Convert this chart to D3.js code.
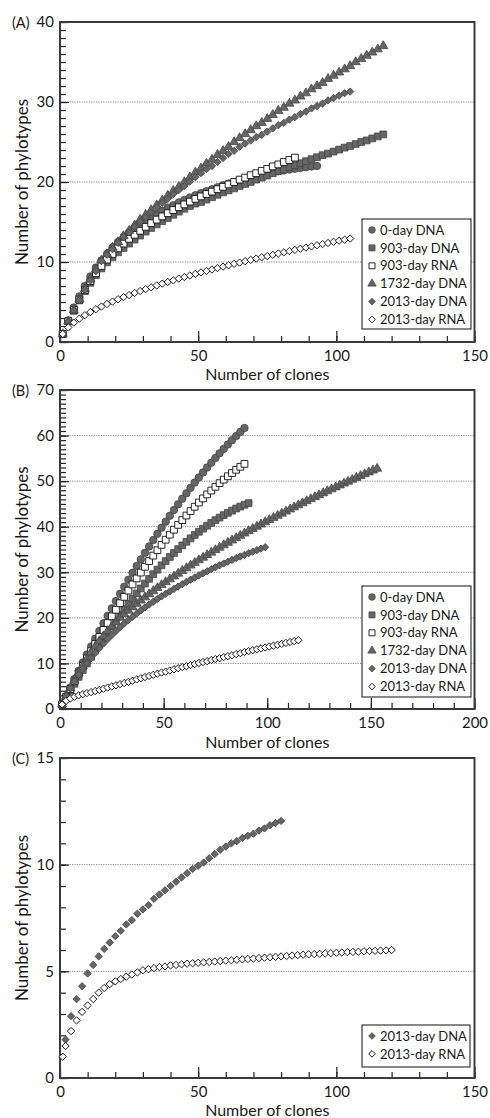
<!DOCTYPE html>
<html>
<head>
<meta charset="utf-8">
<script src="https://cdn.jsdelivr.net/npm/d3@7"></script>
<style>
  body { margin: 0; background: #fff; }
  text { font-family: Lato, "Open Sans", sans-serif; fill: #1a1a1a; }
</style>
</head>
<body>
<svg id="chart"></svg>
<script>
// ---- data ----
// Panel A: clones sampled every 2
const clonesA = [1,3,5,7,9,11,13,15,17,19,21,23,25,27,29,31,33,35,37,39,41,43,45,47,49,51,53,55,57,59,
  61,63,65,67,69,71,73,75,77,79,81,83,85,87,89,91,93,95,97,99,101,103,105,107,109,111,113,115,117];
const a0dayDNA = [1,2.7,4.3,5.7,7.0,8.2,9.3,10.2,11.0,11.8,12.5,13.1,13.7,14.2,14.7,15.2,15.6,16.0,16.4,16.8,
  17.1,17.45,17.75,18.05,18.35,18.6,18.85,19.1,19.35,19.6,19.8,20.0,20.2,20.4,20.6,20.75,20.9,21.05,21.2,21.35,
  21.45,21.55,21.65,21.75,21.85,21.95,22.0];
const a903DNA = [1,2.6,3.9,5.2,6.35,7.4,8.35,9.2,9.95,10.6,11.2,11.75,12.3,12.8,13.3,13.8,14.25,14.7,15.1,15.5,
  15.9,16.3,16.65,17.0,17.3,17.5,17.8,18.1,18.4,18.7,18.95,19.2,19.5,19.75,20.0,20.3,20.55,20.8,21.1,21.35,
  21.6,21.85,22.1,22.35,22.6,22.85,23.1,23.35,23.55,23.8,24.05,24.3,24.5,24.75,25.0,25.2,25.45,25.7,25.95];
const a903RNA = [1,2.6,4.0,5.3,6.5,7.6,8.6,9.5,10.3,11.0,11.7,12.3,12.9,13.4,13.9,14.4,14.85,15.3,15.7,16.1,
  16.5,16.85,17.2,17.55,17.9,18.2,18.5,18.8,19.1,19.4,19.7,20.0,20.3,20.55,20.85,21.1,21.4,21.65,21.95,22.2,
  22.5,22.75,23.05];
const a1732DNA = [1,2.57,3.99,5.33,6.62,7.86,9.08,10.2,11.0,11.8,12.5,13.25,13.9,14.6,15.3,15.9,16.5,17.1,17.7,18.3,
  18.9,19.4,20.0,20.6,21.2,21.7,22.3,22.8,23.4,23.9,24.4,25.0,25.5,26.0,26.5,27.0,27.4,27.9,28.4,28.9,
  29.3,29.8,30.2,30.7,31.1,31.6,32.0,32.4,32.9,33.3,33.7,34.1,34.5,35.0,35.4,35.8,36.2,36.6,37.0];
const a2013DNA = [1,2.55,3.95,5.25,6.5,7.7,8.85,10.1,10.9,11.6,12.4,13.1,13.7,14.4,15.0,15.6,16.2,16.8,17.4,17.9,
  18.5,19.0,19.5,20.05,20.6,21.1,21.6,22.0,22.5,23.0,23.5,23.9,24.4,24.8,25.2,25.6,25.9,26.3,26.7,27.1,
  27.4,27.8,28.1,28.5,28.8,29.2,29.5,29.8,30.2,30.5,30.8,31.1,31.3];
const a2013RNA = [1,1.83,2.42,2.92,3.35,3.74,4.10,4.43,4.75,5.05,5.34,5.61,5.87,6.13,6.37,6.61,6.84,7.07,7.29,7.50,
  7.71,7.92,8.12,8.31,8.51,8.70,8.88,9.06,9.24,9.42,9.59,9.77,9.93,10.10,10.27,10.43,10.59,10.74,10.90,11.06,
  11.21,11.36,11.51,11.66,11.81,11.95,12.10,12.24,12.38,12.52,12.66,12.79,12.93];

// Panel B
const clonesB = [1,3,5,7,9,11,13,15,17,19,21,23,25,27,29,31,33,35,37,39,41,43,45,47,49,51,53,55,57,59,
  61,63,65,67,69,71,73,75,77,79,81,83,85,87,89,91,93,95,97,99,101,103,105,107,109,111,113,115,117,119,
  121,123,125,127,129,131,133,135,137,139,141,143,145,147,149,151,153];
const b0dayDNA = [1,2.85,4.71,6.56,8.38,10.18,11.95,13.70,15.42,17.12,18.80,20.45,22.09,23.69,25.28,26.83,28.37,29.88,31.37,32.83,
  34.27,35.68,37.08,38.44,39.79,41.11,42.40,43.68,44.92,46.15,47.35,48.53,49.68,50.81,51.91,52.99,54.05,55.09,56.10,57.08,
  58.05,58.99,59.90,60.79,61.66];
const b903DNA = [1,2.6,3.99,5.53,7.05,8.54,10.0,11.44,12.84,14.22,15.57,16.89,18.19,19.45,20.69,21.90,23.08,24.24,25.36,26.46,
  27.53,28.57,29.59,30.57,31.53,32.46,33.36,34.24,35.08,35.90,36.69,37.45,38.19,38.89,39.57,40.22,40.84,41.44,42.00,42.54,
  43.05,43.53,43.99,44.41,44.81,45.18];
const b903RNA = [1,2.66,4.39,6.10,7.79,9.45,11.08,12.69,14.27,15.83,17.35,18.86,20.33,21.78,23.21,24.61,25.98,27.33,28.65,29.94,
  31.21,32.45,33.66,34.85,36.02,37.15,38.26,39.35,40.41,41.44,42.45,43.43,44.38,45.31,46.21,47.09,47.94,48.76,49.56,50.33,
  51.07,51.79,52.49,53.15,53.79];
const b1732DNA = [1,2.85,4.6,6.3,7.95,9.5,11.0,12.4,13.7,14.9,16.0,17.1,18.1,19.0,20.05,
  20.84,21.61,22.37,23.11,23.83,24.53,25.22,25.90,26.57,27.22,27.86,28.49,29.12,29.73,30.33,30.93,31.51,32.09,32.67,33.23,
  33.79,34.34,34.89,35.43,35.96,36.49,37.01,37.53,38.04,38.55,39.05,39.54,40.04,40.52,41.01,41.49,41.96,42.43,42.90,43.36,
  43.82,44.28,44.73,45.18,45.63,46.07,46.51,46.94,47.38,47.81,48.23,48.66,49.08,49.50,49.91,50.32,50.73,51.14,51.55,51.95,
  52.35,52.75];
const b2013DNA = [1,2.8,4.5,6.06,7.5,8.82,10.06,11.22,12.32,13.36,14.36,15.32,16.24,17.12,17.96,18.76,19.52,20.24,20.94,21.62,
  22.28,22.92,23.54,24.14,24.72,25.28,25.82,26.35,26.87,27.38,27.88,28.37,28.85,29.32,29.78,30.23,30.67,31.10,31.52,31.93,
  32.33,32.72,33.10,33.47,33.83,34.18,34.52,34.86,35.19,35.51];
const b2013RNA = [1,1.8,2.3,2.7,3.0,3.25,3.5,3.7,3.95,4.2,4.45,4.7,4.95,5.2,5.45,5.7,5.95,6.2,6.5,6.75,
  7.0,7.25,7.5,7.75,8.0,8.2,8.45,8.7,8.95,9.2,9.4,9.65,9.85,10.1,10.3,10.5,10.75,10.95,11.15,11.4,
  11.6,11.8,12.05,12.25,12.5,12.7,12.9,13.1,13.3,13.5,13.7,13.9,14.1,14.3,14.5,14.7,14.9,15.1];

// Panel C
const clonesCdna = [2,4,6,8,10,12,14,16,18,20,22,24,26,28,30,32,34,36,38,40,
  42,44,46,48,50,52,54,56,58,60,62,64,66,68,70,72,74,76,78,80];
const c2013DNA = [1.8,2.9,3.7,4.3,4.9,5.3,5.7,6.05,6.35,6.65,6.9,7.2,7.4,7.7,7.9,8.1,8.4,8.6,8.8,9.0,
  9.2,9.4,9.6,9.8,9.95,10.1,10.3,10.5,10.7,10.85,11.0,11.1,11.25,11.35,11.45,11.6,11.7,11.85,11.95,12.05];
const clonesCrna = [1,2,4,6,8,10,12,14,16,18,20,22,24,26,28,30,32,34,36,38,40,
  42,44,46,48,50,52,54,56,58,60,62,64,66,68,70,72,74,76,78,80,
  82,84,86,88,90,92,94,96,98,100,102,104,106,108,110,112,114,116,118,120];
const c2013RNA = [1,1.5,2.2,2.7,3.1,3.4,3.7,4.0,4.22,4.4,4.53,4.64,4.75,4.85,4.95,5.05,5.1,5.15,5.2,5.23,5.28,
  5.3,5.33,5.36,5.38,5.4,5.42,5.44,5.46,5.48,5.5,5.52,5.54,5.56,5.58,5.6,5.62,5.64,5.66,5.68,5.7,
  5.72,5.74,5.76,5.78,5.8,5.81,5.82,5.84,5.85,5.87,5.88,5.9,5.91,5.92,5.94,5.95,5.96,5.97,5.98,6.0];

const seriesNames = ['0-day DNA', '903-day DNA', '903-day RNA', '1732-day DNA', '2013-day DNA', '2013-day RNA'];
const xTicksA = [0, 50, 100, 150];
const xTicksB = [0, 50, 100, 150, 200];
const yTicksA = [0, 10, 20, 30, 40];
const yTicksB = [0, 10, 20, 30, 40, 50, 60, 70];
const yTicksC = [0, 5, 10, 15];

// marker styles
const styles = {
  '0-day DNA':    {shape: 'circle',   filled: true},
  '903-day DNA':  {shape: 'square',   filled: true},
  '903-day RNA':  {shape: 'square',   filled: false},
  '1732-day DNA': {shape: 'triangle', filled: true},
  '2013-day DNA': {shape: 'diamond',  filled: true},
  '2013-day RNA': {shape: 'diamond',  filled: false}
};
const symSize = {circle: 44, square: 46, triangle: 36, diamond: 27};
const fillGray = '#666666', strokeGray = '#454545';

const W = 490, H = 1118;
const plotL = 60, plotR = 474.5;
const svg = d3.select('#chart').attr('width', W).attr('height', H);

function zip(xs, ys) { return ys.map((v, i) => ({x: xs[i], y: v})); }

const panels = [
  {label: '(A)', top: 22, bottom: 342, xMax: 150, yMax: 40, xTicks: xTicksA, yTicks: yTicksA,
   xLabelY: 380, legend: {x: 362, y: 219, w: 109, h: 110, names: seriesNames},
   series: [
     {name: seriesNames[0], data: zip(clonesA, a0dayDNA)},
     {name: seriesNames[1], data: zip(clonesA, a903DNA)},
     {name: seriesNames[2], data: zip(clonesA, a903RNA)},
     {name: seriesNames[3], data: zip(clonesA, a1732DNA)},
     {name: seriesNames[4], data: zip(clonesA, a2013DNA)},
     {name: seriesNames[5], data: zip(clonesA, a2013RNA)}
   ]},
  {label: '(B)', top: 390, bottom: 709, xMax: 200, yMax: 70, xTicks: xTicksB, yTicks: yTicksB,
   xLabelY: 748, legend: {x: 362, y: 586, w: 109, h: 111, names: seriesNames},
   series: [
     {name: seriesNames[0], data: zip(clonesB, b0dayDNA)},
     {name: seriesNames[1], data: zip(clonesB, b903DNA)},
     {name: seriesNames[2], data: zip(clonesB, b903RNA)},
     {name: seriesNames[3], data: zip(clonesB, b1732DNA)},
     {name: seriesNames[4], data: zip(clonesB, b2013DNA)},
     {name: seriesNames[5], data: zip(clonesB, b2013RNA)}
   ]},
  {label: '(C)', top: 758, bottom: 1078, xMax: 150, yMax: 15, xTicks: xTicksA, yTicks: yTicksC,
   xLabelY: 1116, legend: {x: 362, y: 1025, w: 108, h: 42, names: seriesNames.slice(4)},
   series: [
     {name: seriesNames[4], data: zip(clonesCdna, c2013DNA)},
     {name: seriesNames[5], data: zip(clonesCrna, c2013RNA)}
   ]}
];

function symbolPath(shape, size) {
  const type = {circle: d3.symbolCircle, square: d3.symbolSquare,
                triangle: d3.symbolTriangle, diamond: d3.symbolSquare}[shape];
  return d3.symbol().type(type).size(size)();
}

function drawMarker(sel, name, size) {
  const st = styles[name];
  sel.append('path')
    .attr('d', symbolPath(st.shape, size || symSize[st.shape]))
    .attr('transform', st.shape === 'diamond' ? 'rotate(45)' : null)
    .attr('fill', st.filled ? fillGray : '#fff')
    .attr('stroke', st.filled ? strokeGray : '#111')
    .attr('stroke-width', st.filled ? 0.8 : 0.9);
}

panels.forEach(p => {
  const x = d3.scaleLinear().domain([0, p.xMax]).range([plotL, plotR]);
  const y = d3.scaleLinear().domain([0, p.yMax]).range([p.bottom, p.top]);
  const g = svg.append('g');

  // dotted grid lines at the labelled y values
  g.selectAll('.grid')
    .data(p.yTicks.filter(v => v > 0 && v < p.yMax))
    .enter().append('line')
    .attr('x1', plotL).attr('x2', plotR)
    .attr('y1', d => y(d)).attr('y2', d => y(d))
    .attr('stroke', '#666').attr('stroke-width', 0.8)
    .attr('stroke-dasharray', '1.2,1.2');

  // minor ticks (inside)
  const yMinor = d3.range(0, p.yMax + 1, 1);
  const xMinor = d3.range(0, p.xMax + 1, 10);
  g.append('g').attr('transform', `translate(${plotL},0)`)
    .call(d3.axisLeft(y).tickValues(yMinor).tickSize(-6).tickFormat(''))
    .call(a => a.select('.domain').remove());
  g.append('g').attr('transform', `translate(0,${p.bottom})`)
    .call(d3.axisBottom(x).tickValues(xMinor).tickSize(-6).tickFormat(''))
    .call(a => a.select('.domain').remove());

  // major ticks with labels
  const yAx = g.append('g').attr('transform', `translate(${plotL},0)`)
    .call(d3.axisLeft(y).tickValues(p.yTicks).tickSizeInner(-9).tickSizeOuter(0).tickPadding(6));
  const xAx = g.append('g').attr('transform', `translate(0,${p.bottom})`)
    .call(d3.axisBottom(x).tickValues(p.xTicks).tickSizeInner(-11).tickSizeOuter(0).tickPadding(8));
  [yAx, xAx].forEach(a => {
    a.select('.domain').remove();
    a.selectAll('text').attr('font-family', 'Lato, sans-serif').attr('font-size', 15).attr('fill', '#1a1a1a');
  });
  g.selectAll('.tick line').attr('stroke', '#222').attr('stroke-width', 1.2);

  // frame
  g.append('rect')
    .attr('x', plotL).attr('y', p.top)
    .attr('width', plotR - plotL).attr('height', p.bottom - p.top)
    .attr('fill', 'none').attr('stroke', '#3a3a3a').attr('stroke-width', 2);

  // series markers
  p.series.forEach(s => {
    g.append('g').selectAll('g')
      .data(s.data).enter().append('g')
      .attr('transform', d => `translate(${x(d.x)},${y(d.y)})`)
      .each(function () { drawMarker(d3.select(this), s.name); });
  });

  // labels
  g.append('text').attr('x', 12).attr('y', p.top + 6).attr('font-size', 14.5).text(p.label);
  g.append('text').attr('x', (plotL + plotR) / 2).attr('y', p.xLabelY)
    .attr('text-anchor', 'middle').attr('font-size', 16).text('Number of clones');
  g.append('text')
    .attr('transform', `translate(28,${(p.top + p.bottom) / 2}) rotate(-90)`)
    .attr('text-anchor', 'middle').attr('font-size', 17).text('Number of phylotypes');

  // legend
  const L = p.legend;
  const lg = g.append('g');
  lg.append('rect').attr('x', L.x).attr('y', L.y).attr('width', L.w).attr('height', L.h)
    .attr('fill', '#fff').attr('stroke', '#111').attr('stroke-width', 1);
  L.names.forEach((n, i) => {
    const cy = L.y + 11 + i * 17.9;
    const item = lg.append('g').attr('transform', `translate(${L.x + 10},${cy})`);
    drawMarker(item, n, {circle: 34, square: 36, triangle: 30, diamond: 22}[styles[n].shape]);
    lg.append('text').attr('x', L.x + 18).attr('y', cy).attr('dy', '0.36em')
      .attr('font-size', 13).text(n);
  });
});
</script>
</body>
</html>
